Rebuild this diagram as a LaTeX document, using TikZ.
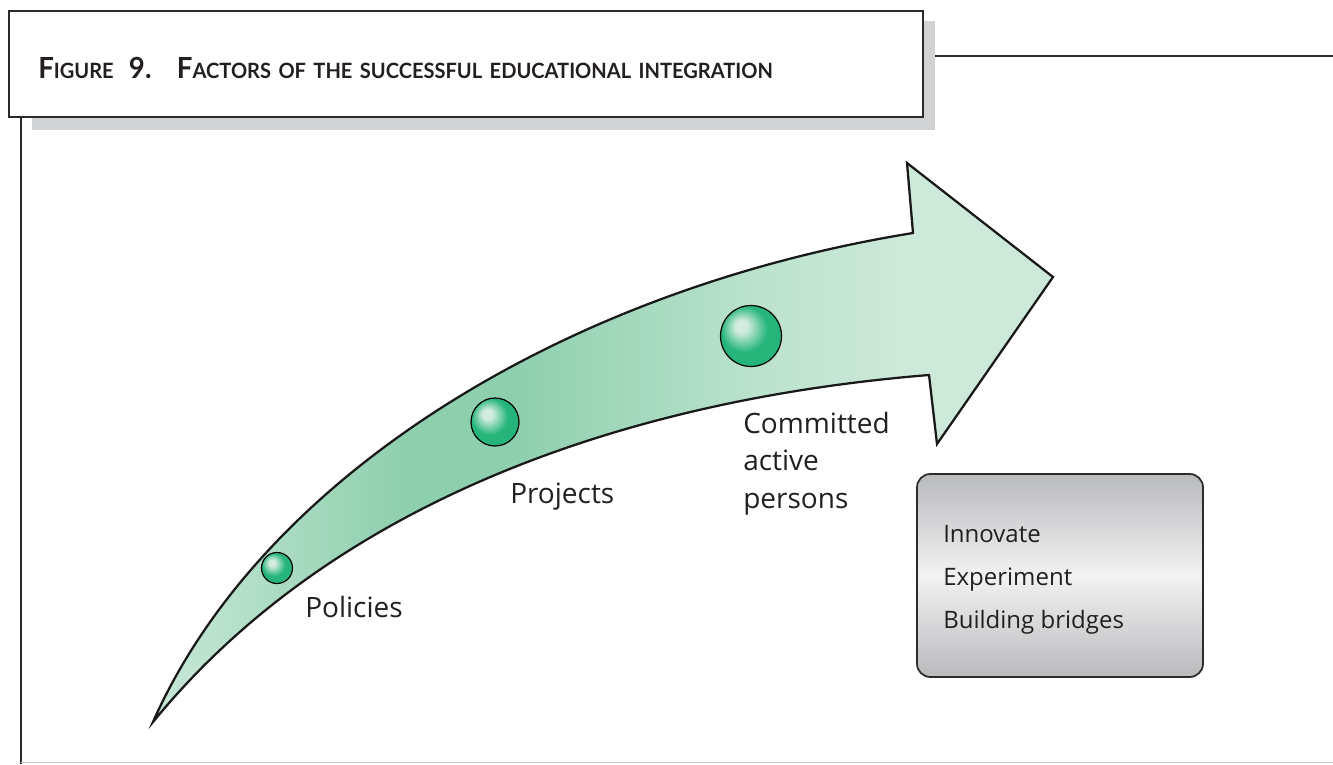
\documentclass[tikz,border=0pt]{standalone}
\usepackage{fontspec}
\newfontfamily\lblfont{Open Sans}
\newfontfamily\ttlfont{Lato}
\usetikzlibrary{shapes.misc}
\definecolor{ac1}{HTML}{C8E8D7}
\definecolor{ac2}{HTML}{8ECFAE}
\definecolor{ac3}{HTML}{BCE3CE}
\definecolor{ac4}{HTML}{CDE9DA}
\definecolor{bhi}{HTML}{D2ECDF}
\definecolor{bmain}{HTML}{25B57A}
\definecolor{bdark}{HTML}{1E9A66}
\definecolor{shadowgray}{HTML}{D1D2D4}
\definecolor{linegray}{HTML}{2B2B2B}
\definecolor{boxtop}{HTML}{B9BABC}
\definecolor{boxmid}{HTML}{F2F2F3}
\definecolor{textgray}{HTML}{231F20}
\pgfdeclarehorizontalshading{arrowshade}{100bp}{color(0bp)=(ac1); color(25bp)=(ac1); color(39bp)=(ac2); color(45bp)=(ac2); color(59bp)=(ac3); color(67bp)=(ac4); color(100bp)=(ac4)}
\pgfdeclareradialshading{sphere}{\pgfpoint{-9bp}{9bp}}{color(0bp)=(bhi); color(5bp)=(bhi); color(19bp)=(bmain); color(30bp)=(bmain); color(50bp)=(bdark)}
\newcommand\myBigCap[1]{{\fontsize{21.8pt}{22pt}\selectfont #1}}
\newcommand\mySmCap[1]{{\fontsize{15.8pt}{16pt}\selectfont #1}}
\tikzset{
  lbl/.style={font=\lblfont\fontsize{21pt}{28pt}\selectfont, text=textgray, inner sep=0pt, anchor=base west, align=left},
  boxtxt/.style={font=\lblfont\fontsize{18pt}{31.9pt}\selectfont, text=textgray, inner sep=0pt, anchor=base west, align=left},
  ball/.style={circle, draw=black, line width=0.9pt, shading=sphere, inner sep=0pt},
  arrowbody/.style={draw=black!90, line width=1.7pt, line join=miter, shading=arrowshade},
  greybox/.style={draw=linegray, line width=1.3pt, rounded corners=10pt, top color=boxtop, bottom color=boxtop, middle color=boxmid, inner sep=0pt, minimum width=214.5pt, minimum height=152.25pt},
  frameline/.style={draw=linegray, line width=1.5pt},
}
\begin{document}
\begin{tikzpicture}[x=0.75pt, y=-0.75pt]
\useasboundingbox (0,0) rectangle (1333,764);
% frame lines
\coordinate (fl1) at (21,117);
\coordinate (fl2) at (21,764);
\coordinate (bl1) at (21,762.5);
\coordinate (bl2) at (1333,762.5);
\coordinate (tl1) at (935,55.5);
\coordinate (tl2) at (1333,55.5);
\draw[frameline] (fl1) -- (fl2);
\draw[draw=black!22, line width=1.2pt] (bl1) -- (bl2);
\draw[frameline] (tl1) -- (tl2);
% title box with shadow
\fill[shadowgray] (32,21) rectangle (935,130);
\draw[fill=white, draw=linegray, line width=1.6pt] (9,11) rectangle (923,117);
\node[inner sep=0pt, anchor=base west, text=textgray, font=\ttlfont\bfseries] (title) at (38,78)
  {\scalebox{0.952}[1]{\myBigCap{F}\mySmCap{IGURE}\hspace{12pt}\myBigCap{9.}\hspace{20pt}\myBigCap{F}\mySmCap{ACTORS\hspace{2pt} OF\hspace{2pt} THE\hspace{2pt} SUCCESSFUL\hspace{2pt} EDUCATIONAL\hspace{2pt} INTEGRATION}}};
% arrow
\path[arrowbody] (153,722) .. controls (260,480) and (560,290) .. (913,233)
  -- (907,163) -- (1053,277) -- (937,444) -- (929,375)
  .. controls (620,400) and (330,505) .. (153,722) -- cycle;
% balls
\node[ball, minimum size=23.25pt] (b1) at (277,568) {};
\node[ball, minimum size=36pt] (b2) at (495,422) {};
\node[ball, minimum size=45.75pt] (b3) at (751,336) {};
% labels
\node[lbl] (policies) at (305,617) {Policies};
\node[lbl] (projects) at (510,503) {Projects};
\node[lbl] (committed) at (743,508) {Committed\\active\\persons};
% grey box
\node[greybox] (box) at (1060,575.5) {};
\node[boxtxt] (boxtext) at (943,628) {Innovate\\Experiment\\Building bridges};
\end{tikzpicture}
\end{document}
